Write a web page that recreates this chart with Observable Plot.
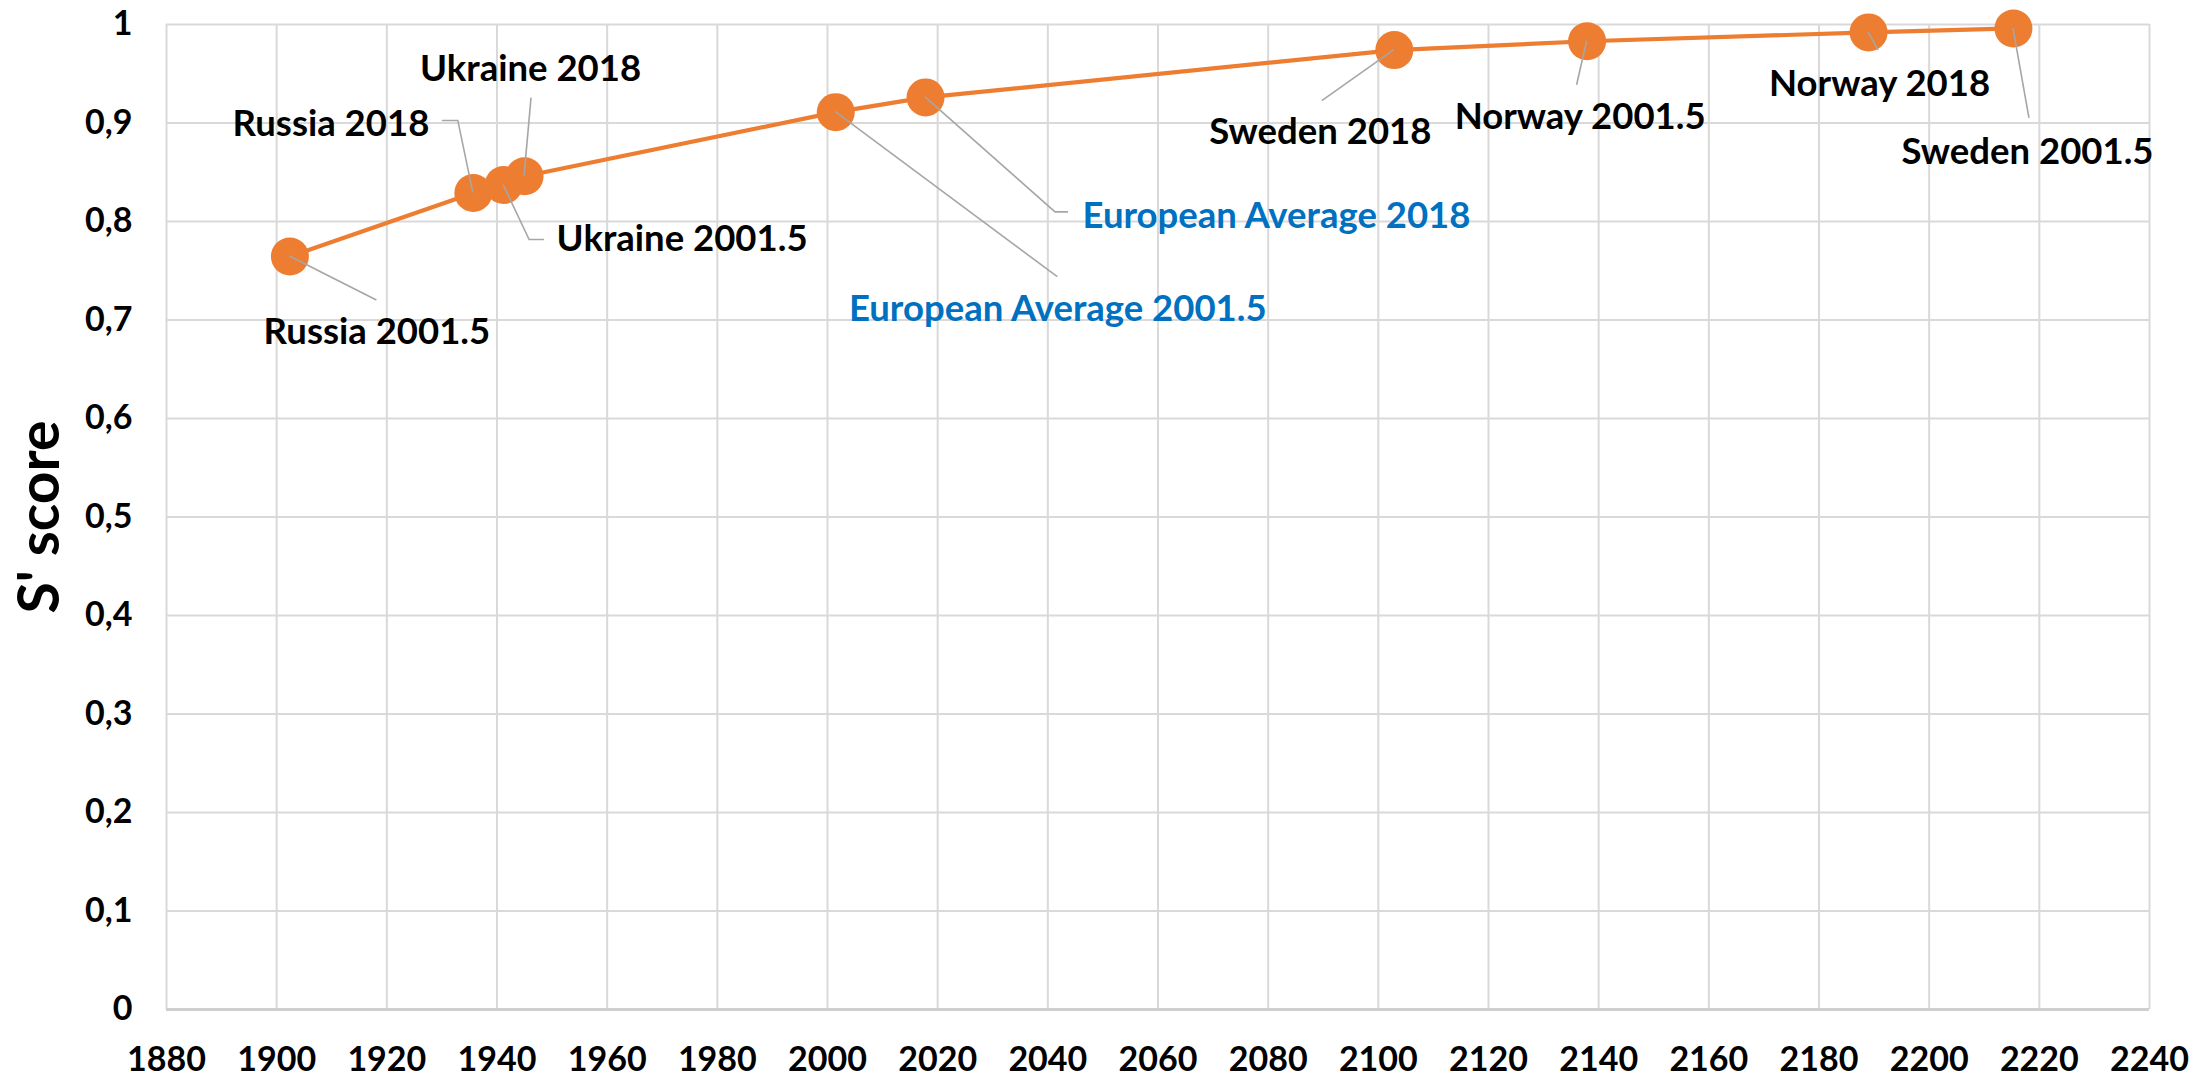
<!DOCTYPE html>
<html>
<head>
<meta charset="utf-8">
<script src="https://cdn.jsdelivr.net/npm/d3@7"></script>
<script src="https://cdn.jsdelivr.net/npm/@observablehq/plot@0.6"></script>
<style>
  html, body { margin: 0; padding: 0; background: #ffffff; }
  #chart svg { display: block; }
</style>
</head>
<body>
<div id="chart"></div>
<script>
// ---- Data ----
const labels = ["Russia 2001.5", "Russia 2018", "Ukraine 2001.5", "Ukraine 2018",
  "European Average 2001.5", "European Average 2018", "Sweden 2018",
  "Norway 2001.5", "Norway 2018", "Sweden 2001.5"];
const xValues = [1902.4, 1935.7, 1941.2, 1945.0, 2001.5, 2017.8, 2102.9, 2137.9, 2189.0, 2215.3];
const sScores = [0.7645, 0.829, 0.837, 0.846, 0.911, 0.926, 0.974, 0.983, 0.992, 0.996];
const xTicks = [1880, 1900, 1920, 1940, 1960, 1980, 2000, 2020, 2040, 2060, 2080, 2100, 2120, 2140, 2160, 2180, 2200, 2220, 2240];
const yTicks = [0, 0.1, 0.2, 0.3, 0.4, 0.5, 0.6, 0.7, 0.8, 0.9, 1];
const yTitle = "S' score";

// ---- Annotation layout (pixel offsets from each point) ----
const annotationLayout = [
  {dx: 87, dy: 76, anchor: "middle", color: "#000000", leader: [[0,0],[87,44]]},
  {dx: -44, dy: -69, anchor: "end", color: "#000000", leader: [[0,0],[-15,-72],[-31,-72]]},
  {dx: 53, dy: 54, anchor: "start", color: "#000000", leader: [[0,0],[26,55],[41,55]]},
  {dx: 6, dy: -107, anchor: "middle", color: "#000000", leader: [[0,0],[7,-78]]},
  {dx: 222, dy: 197, anchor: "middle", color: "#0070C0", leader: [[0,0],[222,165]]},
  {dx: 157, dy: 119, anchor: "start", color: "#0070C0", leader: [[0,0],[130,115],[143,115]]},
  {dx: -74, dy: 82, anchor: "middle", color: "#000000", leader: [[0,0],[-72,51]]},
  {dx: -7, dy: 76, anchor: "middle", color: "#000000", leader: [[0,0],[-10,44]]},
  {dx: 11, dy: 52, anchor: "middle", color: "#000000", leader: [[0,0],[10,18]]},
  {dx: 14, dy: 124, anchor: "middle", color: "#000000", leader: [[0,0],[16,90]]}
];

const data = labels.map((name, i) => ({name, x: xValues[i], y: sScores[i], layout: annotationLayout[i]}));

const FONT = "Lato, 'Open Sans', sans-serif";
const ORANGE = "#ED7D31";
const GRID = "#D9D9D9";

// leader lines drawn with the plot's own scales
const leaderMark = (index, scales) => {
  const g = d3.create("svg:g");
  for (const d of data) {
    const px = scales.x(d.x), py = scales.y(d.y);
    const pts = d.layout.leader.map(([ox, oy]) => [px + ox, py + oy]);
    g.append("path")
      .attr("d", d3.line()(pts))
      .attr("fill", "none")
      .attr("stroke", "#A6A6A6")
      .attr("stroke-width", 1.6);
  }
  return g.node();
};

const labelMarks = data.map(d => Plot.text([d], {
  x: "x", y: "y", text: "name",
  dx: d.layout.dx, dy: d.layout.dy,
  textAnchor: d.layout.anchor,
  fill: d.layout.color,
  fontSize: 36.5, fontWeight: "bold", fontFamily: FONT
}));

const chart = Plot.plot({
  width: 2210,
  height: 1077,
  marginLeft: 166,
  marginRight: 61,
  marginTop: 24,
  marginBottom: 68,
  style: {fontFamily: FONT, fontSize: "34px", fontWeight: "bold", color: "#000", background: "#fff", overflow: "visible"},
  x: {domain: [1880, 2240], ticks: xTicks, tickFormat: d => String(d), tickSize: 0, tickPadding: 37, label: null},
  y: {domain: [0, 1], ticks: yTicks, tickFormat: d => String(+d.toFixed(1)).replace(".", ","), tickSize: 0, tickPadding: 34, label: null},
  marks: [
    Plot.ruleX(xTicks, {stroke: GRID, strokeWidth: 2}),
    Plot.ruleY(yTicks, {stroke: GRID, strokeWidth: 2}),
    Plot.ruleY([0], {stroke: "#CFCFCF", strokeWidth: 3}),
    Plot.line(data, {x: "x", y: "y", stroke: ORANGE, strokeWidth: 4.2}),
    Plot.dot(data, {x: "x", y: "y", r: 19, fill: ORANGE, stroke: "none"}),
    leaderMark,
    ...labelMarks,
    Plot.text([yTitle], {text: d => d, frameAnchor: "left", textAnchor: "middle", dx: -126, rotate: -90, fontSize: 57, fontWeight: "bold", fontFamily: FONT, fill: "#000"})
  ]
});

document.getElementById("chart").appendChild(chart);
</script>
</body>
</html>
